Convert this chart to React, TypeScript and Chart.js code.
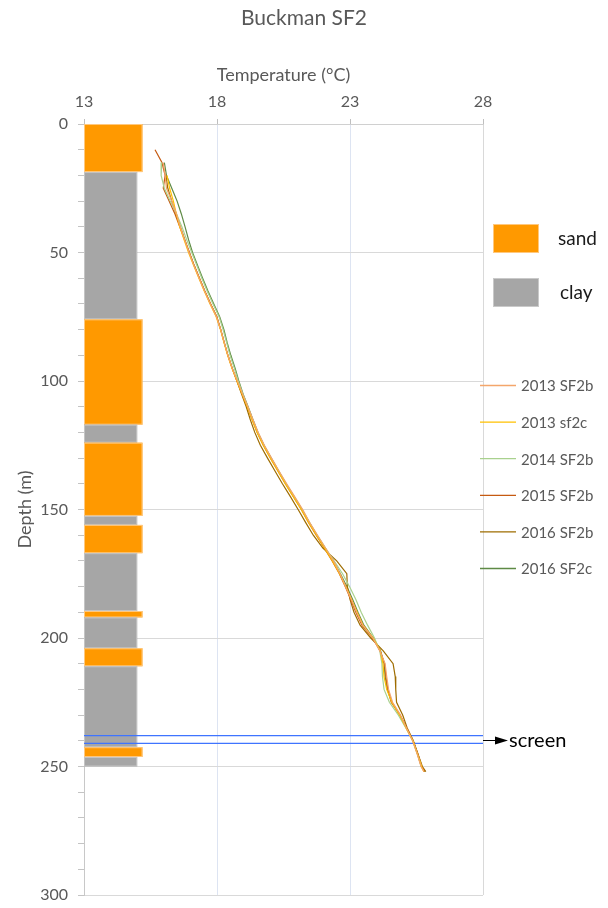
import React, { useEffect, useRef } from 'react';
import { Chart, registerables } from 'chart.js';
Chart.register(...registerables);

const FONT = 'Lato, "Open Sans", sans-serif';
const GREY_TEXT = '#595959';

const chartTitle = 'Buckman SF2';
const xTitle = 'Temperature (°C)';
const yTitle = 'Depth (m)';

// depth (m) of each reading
const depths = [10, 15, 20, 25, 30, 35, 40, 45, 50, 55, 60, 65, 70, 75, 80, 85, 90, 95, 100, 105, 110, 115, 120, 125, 130, 135, 140, 145, 150, 155, 160, 165, 170, 175, 180, 185, 190, 195, 200, 205, 210, 215, 220, 225, 230, 235, 240, 245, 250, 252];

const t2013SF2b = [null, 15.98, 16.05, 16.10, 16.30, 16.48, 16.62, 16.78, 16.95, 17.13, 17.33, 17.53, 17.75, 17.98, 18.14, 18.27, 18.41, 18.57, 18.77, 18.96, 19.16, 19.35, 19.55, 19.78, 20.05, 20.33, 20.62, 20.92, 21.22, 21.48, 21.78, 22.08, 22.38, 22.63, 22.83, 23.05, 23.25, 23.48, 23.86, 24.12, 24.32, 24.38, 24.45, 24.60, 24.90, 25.12, 25.35, 25.52, 25.67, 25.78];
const t2013sf2c = [null, null, 16.12, 16.22, 16.36, 16.47, 16.60, 16.76, 16.93, 17.12, 17.32, 17.52, 17.74, 17.97, 18.13, 18.26, 18.40, 18.56, 18.75, 18.94, 19.14, 19.32, 19.51, 19.74, 20.01, 20.29, 20.57, 20.87, 21.17, 21.44, 21.74, 22.04, 22.34, 22.61, 22.84, 23.06, 23.27, 23.49, 23.87, 24.14, 24.24, 24.28, 24.38, 24.57, 24.87, 25.11, 25.36, 25.53, 25.69, 25.78];
const t2014SF2b = [null, 15.92, 15.90, 16.02, 16.24, 16.48, 16.68, 16.86, 17.05, 17.24, 17.43, 17.63, 17.85, 18.08, 18.23, 18.36, 18.49, 18.65, 18.80, 18.97, 19.16, 19.34, 19.53, 19.76, 20.03, 20.31, 20.59, 20.89, 21.19, 21.47, 21.77, 22.08, 22.40, 22.72, 22.98, 23.22, 23.42, 23.66, 23.92, 24.12, 24.20, 24.22, 24.28, 24.48, 24.82, 25.10, 25.36, 25.53, 25.69, null];
const t2015SF2b = [15.67, 15.93, 16.05, 15.98, 16.20, 16.42, 16.60, 16.78, 16.96, 17.14, 17.34, 17.54, 17.76, 17.99, 18.14, 18.27, 18.41, 18.57, 18.75, 18.94, 19.14, 19.32, 19.51, 19.74, 20.01, 20.29, 20.57, 20.87, 21.17, 21.44, 21.73, 22.03, 22.33, 22.60, 22.82, 23.03, 23.22, 23.45, 23.85, 24.13, 24.30, 24.35, 24.42, 24.55, 24.88, 25.13, 25.37, 25.55, 25.70, 25.80];
const t2016SF2b = [null, null, 16.08, 16.15, 16.30, 16.46, 16.62, 16.79, 16.96, 17.14, 17.34, 17.54, 17.76, 17.99, 18.14, 18.27, 18.41, 18.57, 18.75, 18.92, 19.10, 19.25, 19.42, 19.63, 19.90, 20.18, 20.46, 20.76, 21.05, 21.33, 21.62, 21.98, 22.50, 22.88, 22.90, 23.00, 23.15, 23.38, 23.78, 24.25, 24.62, 24.70, 24.72, 24.75, 24.98, 25.15, 25.38, 25.55, 25.72, 25.85];
const t2016SF2c = [null, 16.02, 16.10, 16.30, 16.50, 16.66, 16.80, 16.93, 17.08, 17.27, 17.46, 17.66, 17.88, 18.10, 18.26, 18.38, 18.52, 18.68, 18.82, 18.98, 19.17, 19.35, 19.54, 19.77, 20.04, 20.32, 20.60, 20.90, 21.20, 21.47, 21.76, 22.06, 22.37, 22.64, 22.88, 23.10, 23.30, 23.52, 23.88, 24.15, 24.28, 24.32, 24.40, 24.58, 24.88, 25.12, 25.37, 25.53, 25.68, 25.82];

const seriesLabels = ['2013 SF2b', '2013 sf2c', '2014 SF2b', '2015 SF2b', '2016 SF2b', '2016 SF2c'];
const seriesValues = [t2013SF2b, t2013sf2c, t2014SF2b, t2015SF2b, t2016SF2b, t2016SF2c];
const seriesColors = ['#F4A66B', '#FFC000', '#A9D18E', '#C55A11', '#9E6C00', '#5E8A45'];

// lithology: layer boundaries (m) and type of each layer
const lithBounds = [0, 18.7, 76, 117, 124, 152.5, 156, 167, 189.5, 192, 204, 211, 242.5, 246.3, 250];
const lithTypes = ['sand', 'clay', 'sand', 'clay', 'sand', 'clay', 'sand', 'clay', 'sand', 'clay', 'sand', 'clay', 'sand', 'clay'];
const lithNames = ['sand', 'clay'];
const lithRight: Record<string, number> = { sand: 15.2, clay: 15.0 };
const lithColors: Record<string, string> = { sand: '#FF9900', clay: '#A6A6A6' };

const screenDepths = [238, 241];
const screenLabel = 'screen';
const screenColor = '#3F74FF';

const xMin = 13, xMax = 28, xStep = 5;
const yMin = 0, yMax = 300, yStep = 10, yLabelStep = 50;

const lithPlugin = {
  id: 'lith',
  beforeDatasetsDraw(chart: any) {
    const { ctx, chartArea, scales } = chart;
    const x = scales.x, y = scales.y;
    ctx.save();
    ctx.beginPath();
    ctx.rect(chartArea.left, chartArea.top, chartArea.width, chartArea.height);
    ctx.clip();
    for (let i = 0; i < lithTypes.length; i++) {
      const t = lithTypes[i];
      const x0 = x.getPixelForValue(xMin);
      const x1 = x.getPixelForValue(lithRight[t]);
      const y0 = y.getPixelForValue(lithBounds[i]);
      const y1 = y.getPixelForValue(lithBounds[i + 1]);
      ctx.fillStyle = lithColors[t];
      ctx.fillRect(x0, y0, x1 - x0, y1 - y0);
      ctx.strokeStyle = t === 'sand' ? 'rgba(255,205,140,0.9)' : 'rgba(200,200,200,0.9)';
      ctx.lineWidth = 1;
      ctx.strokeRect(x0 + 0.5, y0 + 0.5, x1 - x0 - 1, y1 - y0 - 1);
    }
    ctx.restore();
  },
};

const legendPlugin = {
  id: 'customLegend',
  afterDraw(chart: any) {
    const { ctx, chartArea, scales } = chart;
    const y = scales.y;
    ctx.save();
    // lithology legend
    const boxTops = [224, 278];
    lithNames.forEach((n, i) => {
      ctx.fillStyle = lithColors[n];
      ctx.fillRect(493, boxTops[i], 46, 29);
      ctx.strokeStyle = n === 'sand' ? 'rgba(255,205,140,0.9)' : 'rgba(205,205,205,0.9)';
      ctx.lineWidth = 1;
      ctx.strokeRect(493.5, boxTops[i] + 0.5, 45, 28);
      ctx.fillStyle = '#1a1a1a';
      ctx.font = `19px ${FONT}`;
      ctx.textBaseline = 'middle';
      ctx.textAlign = 'left';
      ctx.fillText(n, 558 + i * 2, boxTops[i] + 15);
    });
    // series legend
    chart.data.datasets.forEach((ds: any) => {
      if (ds.legendIndex === undefined) return;
      const ly = 385.5 + ds.legendIndex * 36.6;
      ctx.strokeStyle = ds.borderColor;
      ctx.lineWidth = 1.3;
      ctx.beginPath();
      ctx.moveTo(480, ly);
      ctx.lineTo(516, ly);
      ctx.stroke();
      ctx.fillStyle = GREY_TEXT;
      ctx.font = `15px ${FONT}`;
      ctx.textBaseline = 'middle';
      ctx.textAlign = 'left';
      ctx.fillText(ds.label, 521, ly + 1);
    });
    // screen arrow
    const ay = (y.getPixelForValue(screenDepths[0]) + y.getPixelForValue(screenDepths[1])) / 2 + 1;
    const ax = chartArea.right;
    ctx.strokeStyle = '#000';
    ctx.lineWidth = 1;
    ctx.beginPath();
    ctx.moveTo(ax, ay);
    ctx.lineTo(ax + 14, ay);
    ctx.stroke();
    ctx.fillStyle = '#000';
    ctx.beginPath();
    ctx.moveTo(ax + 12, ay - 4);
    ctx.lineTo(ax + 25, ay);
    ctx.lineTo(ax + 12, ay + 4);
    ctx.closePath();
    ctx.fill();
    ctx.font = `20px ${FONT}`;
    ctx.textBaseline = 'middle';
    ctx.fillText(screenLabel, ax + 26, ay);
    ctx.restore();
  },
};

export default function App() {
  const ref = useRef<HTMLCanvasElement | null>(null);
  useEffect(() => {
    if (!ref.current) return;
    const datasets: any[] = seriesLabels.map((label, i) => ({
      label,
      legendIndex: i,
      data: depths
        .map((d, j) => ({ x: seriesValues[i][j], y: d }))
        .filter((p) => p.x !== null && p.x !== undefined),
      borderColor: seriesColors[i],
      backgroundColor: seriesColors[i],
      showLine: true,
      pointRadius: 0,
      borderWidth: 1.2,
      tension: 0,
    }));
    screenDepths.forEach((d) => {
      datasets.push({
        label: 'screen ' + d,
        data: [{ x: xMin, y: d }, { x: xMax, y: d }],
        borderColor: screenColor,
        backgroundColor: screenColor,
        showLine: true,
        pointRadius: 0,
        borderWidth: 1.3,
      });
    });
    const chart = new Chart(ref.current, {
      type: 'scatter',
      data: { datasets },
      plugins: [lithPlugin, legendPlugin],
      options: {
        animation: false,
        responsive: false,
        devicePixelRatio: 1,
        layout: { padding: { left: 0, right: 0, top: 0, bottom: 13 } },
        plugins: {
          legend: { display: false },
          tooltip: { enabled: false },
          title: {
            display: true,
            text: chartTitle,
            color: GREY_TEXT,
            font: { family: FONT, size: 21, weight: 'normal' },
            padding: { top: 6, bottom: 6 },
          },
        },
        scales: {
          x: {
            type: 'linear',
            position: 'top',
            min: xMin,
            max: xMax,
            afterFit: (s: any) => { s.height = 86.8; },
            ticks: {
              stepSize: xStep,
              color: GREY_TEXT,
              font: { family: FONT, size: 16 },
              padding: 8,
            },
            grid: {
              color: (c: any) => (c.tick && (c.tick.value === xMin || c.tick.value === xMax) ? '#d9d9d9' : '#dde4f2'),
              tickColor: '#bfbfbf',
              tickLength: 5,
            },
            border: { display: true, color: '#d0d0d0' },
            title: {
              display: true,
              text: xTitle,
              color: GREY_TEXT,
              font: { family: FONT, size: 18 },
              padding: { top: 27, bottom: 0 },
            },
          },
          y: {
            type: 'linear',
            position: 'left',
            reverse: true,
            min: yMin,
            max: yMax,
            afterFit: (s: any) => { s.width = 84; s.paddingTop = 0; s.paddingBottom = 0; },
            ticks: {
              stepSize: yStep,
              autoSkip: false,
              color: GREY_TEXT,
              font: { family: FONT, size: 16 },
              padding: 10,
              callback: (v: any) => (Number(v) % yLabelStep === 0 ? String(v) : ''),
            },
            grid: {
              color: (c: any) => (c.tick && c.tick.value % yLabelStep === 0 ? '#d9d9d9' : 'rgba(0,0,0,0)'),
              tickColor: '#c4c4c4',
              tickLength: 6,
            },
            border: { display: true, color: '#c8c8c8' },
            title: {
              display: true,
              text: yTitle,
              color: GREY_TEXT,
              font: { family: FONT, size: 18 },
              padding: { top: 14, bottom: 0 },
            },
          },
          y2: {
            type: 'linear',
            position: 'right',
            min: yMin,
            max: yMax,
            afterFit: (s: any) => { s.width = 125; s.paddingTop = 0; s.paddingBottom = 0; },
            ticks: { display: false },
            grid: { display: false, drawTicks: false },
            border: { display: false },
          },
        },
      } as any,
    });
    return () => chart.destroy();
  }, []);
  return (
    <div style={{ position: 'fixed', left: 0, top: 0, width: 608, height: 908, background: '#fff' }}>
      <canvas ref={ref} width={608} height={908} style={{ width: 608, height: 908, display: 'block' }} />
    </div>
  );
}
